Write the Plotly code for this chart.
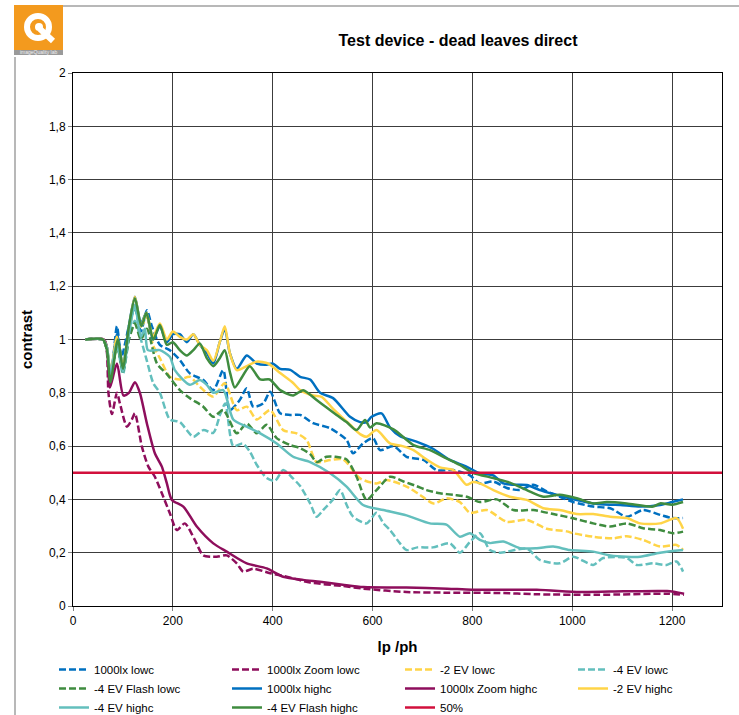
import plotly.graph_objects as go

# ---------------- data ----------------
x_1000lx_lowc = [25,60,68,76,88,97,112,124,136,148,158,174,194,214,234,261,281,301,314,334,348,361,381,395,415,435,455,481,515,548,561,581,601,615,642,668,702,728,762,795,815,842,869,895,922,949,975,1002,1042,1076,1109,1142,1176,1200,1222]
y_1000lx_lowc = [1,1,0.96,0.86,1.05,0.935,1.05,1.12,1.03,1.11,1.05,0.98,0.96,0.923,0.873,0.848,0.81,0.885,0.735,0.773,0.817,0.748,0.76,0.804,0.723,0.717,0.717,0.686,0.667,0.623,0.573,0.61,0.63,0.585,0.60,0.56,0.548,0.51,0.51,0.49,0.46,0.467,0.443,0.435,0.455,0.43,0.41,0.39,0.373,0.367,0.335,0.36,0.342,0.33,0.33]

x_zoom_lowc = [25,62,68,71,78,88,94,108,118,124,138,151,164,178,194,208,224,244,261,288,308,328,341,361,395,428,475,540,582,668,750,850,929,1050,1190,1224]
y_zoom_lowc = [1,1,0.95,0.80,0.72,0.80,0.76,0.673,0.70,0.723,0.598,0.523,0.485,0.423,0.348,0.285,0.31,0.248,0.19,0.185,0.19,0.16,0.129,0.14,0.123,0.11,0.088,0.075,0.065,0.0525,0.05,0.049,0.044,0.042,0.046,0.042]

x_m2ev_lowc = [25,60,68,76,88,100,112,124,136,148,160,174,194,214,234,254,281,304,328,348,368,395,421,448,468,488,515,541,575,608,628,668,695,722,748,775,795,829,869,909,949,989,1002,1042,1082,1109,1142,1176,1209,1222]
y_m2ev_lowc = [1,1,0.96,0.87,1.0,0.9,1.03,1.13,1.05,1.08,0.98,0.93,0.86,0.85,0.86,0.823,0.786,0.836,0.735,0.748,0.70,0.735,0.66,0.648,0.623,0.54,0.548,0.55,0.479,0.46,0.473,0.448,0.417,0.385,0.404,0.39,0.35,0.36,0.316,0.323,0.29,0.28,0.273,0.26,0.254,0.262,0.248,0.223,0.229,0.21]

x_m4ev_lowc = [25,60,68,76,88,100,112,124,136,148,161,174,194,214,241,261,281,295,305,321,340,354,368,388,405,421,440,455,475,488,501,521,535,548,561,588,608,622,635,655,668,690,721,755,775,795,815,835,855,909,935,975,1002,1042,1062,1109,1129,1162,1189,1209,1222]
y_m4ev_lowc = [1,1,0.96,0.86,0.98,0.87,1.0,1.07,1.0,0.92,0.835,0.80,0.70,0.69,0.635,0.66,0.65,0.72,0.76,0.60,0.61,0.58,0.53,0.48,0.47,0.51,0.48,0.45,0.385,0.335,0.36,0.40,0.435,0.38,0.335,0.31,0.35,0.31,0.285,0.235,0.21,0.22,0.22,0.235,0.20,0.24,0.273,0.21,0.2,0.215,0.173,0.16,0.185,0.154,0.18,0.18,0.154,0.16,0.154,0.167,0.129]

x_flash_lowc = [25,60,68,76,88,100,112,124,136,148,168,188,214,234,261,281,301,328,348,368,388,408,435,455,475,488,508,525,548,568,588,608,635,662,688,708,735,762,789,815,849,882,922,962,1002,1042,1076,1109,1142,1176,1202,1222]
y_flash_lowc = [1,1,0.96,0.85,0.98,0.88,1.0,1.06,1.0,1.04,0.91,0.87,0.81,0.78,0.748,0.71,0.735,0.648,0.685,0.648,0.68,0.63,0.604,0.592,0.57,0.54,0.56,0.56,0.55,0.485,0.398,0.435,0.485,0.467,0.45,0.435,0.423,0.417,0.41,0.39,0.40,0.36,0.36,0.345,0.329,0.31,0.298,0.31,0.292,0.285,0.273,0.279]

x_1000lx_highc = [25,60,68,75,88,100,112,124,136,147,160,174,188,200,214,228,241,254,268,281,294,304,314,328,348,368,385,400,415,435,455,475,495,521,555,575,588,598,618,635,655,688,721,755,788,815,842,862,882,909,935,969,1002,1042,1076,1096,1136,1176,1200,1222]
y_1000lx_highc = [1,1,0.97,0.86,1.02,0.9,1.05,1.16,1.06,1.10,1.0,1.05,0.99,1.02,1.02,0.99,1.02,0.98,0.95,0.91,0.99,1.04,0.95,0.89,0.94,0.91,0.905,0.91,0.89,0.886,0.86,0.85,0.80,0.78,0.71,0.69,0.69,0.71,0.723,0.67,0.637,0.617,0.59,0.548,0.523,0.498,0.49,0.46,0.455,0.454,0.435,0.417,0.40,0.385,0.38,0.379,0.373,0.379,0.39,0.40]

x_zoom_highc = [25,62,68,74,88,101,112,124,134,148,164,178,188,198,221,248,281,308,348,388,421,461,495,540,582,668,750,799,929,1016,1103,1190,1224]
y_zoom_highc = [1,1,0.97,0.82,0.91,0.79,0.80,0.84,0.80,0.685,0.573,0.523,0.46,0.398,0.373,0.298,0.235,0.204,0.16,0.141,0.11,0.098,0.091,0.08,0.071,0.069,0.065,0.061,0.061,0.0525,0.055,0.056,0.046]

x_m2ev_highc = [25,60,68,75,88,100,112,124,136,147,160,174,188,200,214,228,241,254,268,281,294,304,314,328,348,368,391,415,441,455,481,498,521,555,575,588,608,635,660,682,708,735,762,788,801,815,842,875,909,942,975,1009,1042,1076,1109,1136,1176,1209,1222]
y_m2ev_highc = [1,1,0.97,0.87,1.01,0.9,1.04,1.16,1.05,1.10,1.01,1.06,1.0,1.03,1.01,1.0,1.02,0.98,0.96,0.92,0.99,1.05,0.95,0.885,0.90,0.917,0.91,0.874,0.837,0.81,0.79,0.785,0.74,0.68,0.645,0.635,0.66,0.61,0.60,0.585,0.55,0.52,0.51,0.455,0.465,0.46,0.435,0.41,0.398,0.367,0.36,0.345,0.345,0.335,0.33,0.31,0.31,0.33,0.29]

x_m4ev_highc = [25,60,68,75,88,100,112,124,136,144,150,174,194,204,234,254,268,281,301,321,348,375,408,441,475,515,548,581,622,668,715,748,775,795,815,835,862,895,929,962,995,1042,1076,1109,1136,1176,1222]
y_m4ev_highc = [1,1,0.97,0.87,0.99,0.88,1.02,1.13,1.01,1.04,0.96,0.96,0.935,0.885,0.83,0.848,0.83,0.80,0.81,0.70,0.673,0.648,0.61,0.56,0.54,0.498,0.448,0.379,0.36,0.34,0.31,0.305,0.26,0.273,0.248,0.236,0.242,0.217,0.217,0.223,0.21,0.204,0.19,0.185,0.185,0.2,0.21]

x_flash_highc = [25,60,68,75,90,100,112,124,137,147,161,174,188,200,214,228,241,254,268,281,294,304,314,324,339,354,375,394,415,441,461,488,508,528,548,568,585,595,608,642,682,715,748,775,801,842,875,909,942,975,1009,1042,1069,1109,1162,1176,1200,1222]
y_flash_highc = [1,1,0.96,0.84,1.0,0.89,1.05,1.155,1.05,1.10,1.0,1.054,0.98,0.99,0.96,0.94,0.96,0.985,0.93,0.90,0.93,0.96,0.88,0.82,0.86,0.90,0.85,0.85,0.81,0.79,0.81,0.773,0.745,0.717,0.69,0.66,0.698,0.67,0.686,0.663,0.604,0.585,0.554,0.529,0.50,0.48,0.463,0.435,0.41,0.417,0.404,0.385,0.39,0.385,0.373,0.385,0.38,0.39]

x_50 = [0, 1300]
y_50 = [0.5, 0.5]

x_ticks = [0, 200, 400, 600, 800, 1000, 1200]
y_ticks = [0, 0.2, 0.4, 0.6, 0.8, 1.0, 1.2, 1.4, 1.6, 1.8, 2.0]
y_ticktext = ["0", "0,2", "0,4", "0,6", "0,8", "1", "1,2", "1,4", "1,6", "1,8", "2"]

# ---------------- styling ----------------
BLUE = "#0070C0"
MAROON = "#8E0E5C"
YELLOW = "#FFD447"
TEAL = "#63BFBD"
GREEN = "#3F8C3F"
RED = "#D2103C"
DASH = "7px,3px"
FONT = "Liberation Sans, Arial, sans-serif"

series = [
    ("1000lx lowc", x_1000lx_lowc, y_1000lx_lowc, BLUE, DASH),
    ("1000lx Zoom lowc", x_zoom_lowc, y_zoom_lowc, MAROON, DASH),
    ("-2 EV lowc", x_m2ev_lowc, y_m2ev_lowc, YELLOW, DASH),
    ("-4 EV lowc", x_m4ev_lowc, y_m4ev_lowc, TEAL, DASH),
    ("-4 EV Flash lowc", x_flash_lowc, y_flash_lowc, GREEN, DASH),
    ("1000lx highc", x_1000lx_highc, y_1000lx_highc, BLUE, "solid"),
    ("1000lx Zoom highc", x_zoom_highc, y_zoom_highc, MAROON, "solid"),
    ("-2 EV highc", x_m2ev_highc, y_m2ev_highc, YELLOW, "solid"),
    ("-4 EV highc", x_m4ev_highc, y_m4ev_highc, TEAL, "solid"),
    ("-4 EV Flash highc", x_flash_highc, y_flash_highc, GREEN, "solid"),
    ("50%", x_50, y_50, RED, "solid"),
]

fig = go.Figure()
for name, xs, ys, col, dash in series:
    fig.add_trace(go.Scatter(
        x=xs, y=ys, mode="lines", name=name,
        line=dict(color=col, width=2.5, dash=dash, shape="spline", smoothing=0.7),
    ))

W, H = 739, 715
L, R, T, B = 73, 17, 73, 109
PW, PH = W - L - R, H - T - B

def px(xp):
    return (xp - L) / PW

def py(yp):
    return (H - B - yp) / PH

shapes = [
    # chart-area border (top and left)
    dict(type="line", xref="paper", yref="paper", x0=px(63), x1=px(739), y0=py(6), y1=py(6),
         line=dict(color="#A0A0A0", width=1.5)),
    dict(type="line", xref="paper", yref="paper", x0=px(15), x1=px(15), y0=py(57), y1=py(715),
         line=dict(color="#A0A0A0", width=1.5)),
    # logo
    dict(type="rect", xref="paper", yref="paper", x0=px(14), x1=px(63), y0=py(50), y1=py(5),
         fillcolor="#F39A1E", line=dict(width=0)),
    dict(type="rect", xref="paper", yref="paper", x0=px(14), x1=px(63), y0=py(55), y1=py(50),
         fillcolor="#9A9A9A", line=dict(width=0)),
    dict(type="circle", xref="paper", yref="paper", x0=px(27), x1=px(49), y0=py(38), y1=py(16),
         line=dict(color="white", width=6)),
    dict(type="line", xref="paper", yref="paper", x0=px(40), x1=px(53), y0=py(29), y1=py(41),
         line=dict(color="white", width=6)),
    dict(type="circle", xref="paper", yref="paper", x0=px(35), x1=px(43), y0=py(31), y1=py(23),
         fillcolor="white", line=dict(width=0)),
]

annotations = [
    dict(text="imageQuality lab", xref="paper", yref="paper", x=px(38.5), y=py(52.5),
         showarrow=False, font=dict(size=5, color="#F0F0F0", family=FONT),
         xanchor="center", yanchor="middle"),
]

fig.update_layout(
    width=W, height=H,
    margin=dict(l=L, r=R, t=T, b=B, autoexpand=False),
    paper_bgcolor="white", plot_bgcolor="white",
    font=dict(family=FONT, color="black"),
    title=dict(text="<b>Test device - dead leaves direct</b>", x=458 / W, xref="container",
               xanchor="center", y=1 - 40 / H, yref="container", yanchor="middle",
               font=dict(size=16, family=FONT, color="black")),
    showlegend=True,
    legend=dict(orientation="h", x=px(54), y=py(655), xanchor="left", yanchor="top",
                entrywidth=128, entrywidthmode="pixels", font=dict(size=11.5, family=FONT),
                traceorder="normal", bgcolor="rgba(0,0,0,0)", tracegroupgap=0),
    shapes=shapes,
    annotations=annotations,
)

fig.update_xaxes(range=[0, 1300], tickvals=x_ticks, showgrid=True, gridcolor="#3C3C3C", gridwidth=1,
                 showline=True, linecolor="black", linewidth=1, mirror=True,
                 ticks="outside", ticklen=4, tickcolor="#808080",
                 tickfont=dict(size=12, family=FONT), zeroline=False,
                 title=dict(text="<b>lp /ph</b>", font=dict(size=15, family=FONT), standoff=14))
fig.update_yaxes(range=[0, 2], tickvals=y_ticks, ticktext=y_ticktext, showgrid=True,
                 gridcolor="#3C3C3C", gridwidth=1,
                 showline=True, linecolor="black", linewidth=1, mirror=True,
                 ticks="outside", ticklen=4, tickcolor="#808080",
                 tickfont=dict(size=12, family=FONT), zeroline=False,
                 title=dict(text="<b>contrast</b>", font=dict(size=15, family=FONT), standoff=12))

fig.write_html("out.html", config={"displayModeBar": False},
               post_script="document.body.style.margin='0';")
